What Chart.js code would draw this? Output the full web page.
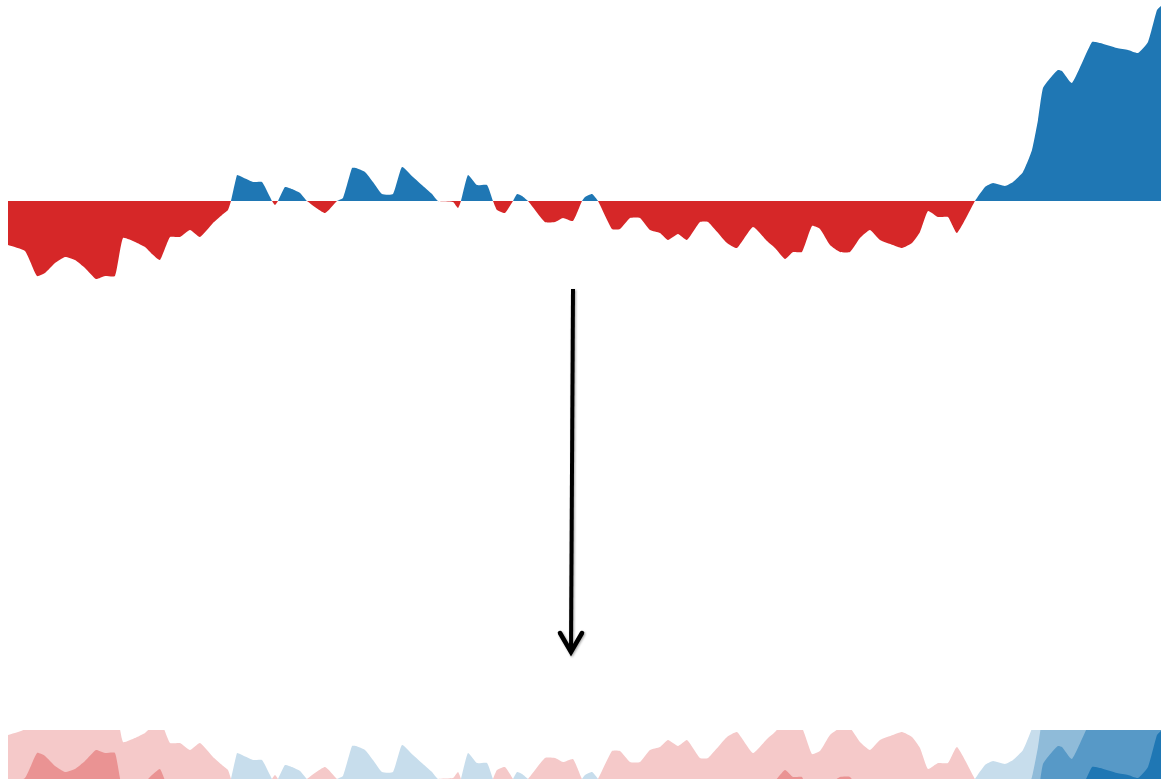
<!DOCTYPE html>
<html>
<head>
<meta charset="utf-8">
<script src="https://cdn.jsdelivr.net/npm/chart.js@4/dist/chart.umd.min.js"></script>
<style>
  html, body { margin: 0; padding: 0; background: #ffffff; }
  body { width: 1161px; height: 779px; position: relative; overflow: hidden; }
  #area { position: absolute; left: 8px; top: 0px; }
  #horizon { position: absolute; left: 8px; top: 730px; }
  #arrow { position: absolute; left: 0; top: 0; }
</style>
</head>
<body>
<canvas id="area" width="1153" height="290"></canvas>
<svg id="arrow" width="1161" height="779" style="filter: drop-shadow(1px 1px 1.2px rgba(0,0,0,0.35));">
  <line x1="573" y1="289" x2="571" y2="650" stroke="#000" stroke-width="4"/>
  <polyline points="560,633 571,652 582,633" fill="none" stroke="#000" stroke-width="4.5" stroke-linejoin="miter" stroke-linecap="round"/>
</svg>
<canvas id="horizon" width="1153" height="49"></canvas>
<script>
// Time series: sample positions and signed values
const days = [
  0, 17, 29, 37, 47, 57, 67, 77, 88, 97, 107, 115, 127, 137, 144, 152, 162, 172, 182, 192,
  205, 214, 220, 223, 229, 232, 245, 254, 262, 264, 267, 270, 277, 284, 292, 299, 317, 329, 335, 344,
  348, 357, 365, 374, 385, 394, 405, 415, 424, 430, 445, 450, 453, 460, 469, 479, 485, 489, 497, 505,
  509, 514, 520, 537, 547, 555, 565, 574, 577, 584, 590, 604, 612, 622, 632, 642, 652, 660, 670, 679,
  692, 700, 719, 729, 745, 759, 767, 777, 785, 794, 804, 812, 822, 832, 842, 852, 862, 872, 885, 894,
  904, 912, 920, 930, 940, 949, 967, 977, 985, 997, 1005, 1015, 1024, 1030, 1035, 1044, 1050, 1054, 1064, 1084,
  1092, 1109, 1120, 1130, 1140, 1149, 1153
];
const values = [
  -44, -50, -75, -72, -62, -56, -59, -67, -78, -75, -75, -37, -41, -46, -53, -59, -36, -36, -29, -36,
  -22, -14, -9, 0, 26, 25, 19, 19, 4, 0, -4, 0, 14, 12, 8, 0, -12, 0, 3, 33,
  33, 29, 19, 7, 7, 34, 24, 15, 7, 0, -1, -7, 0, 26, 16, 16, 0, -9, -12, 0,
  7, 5, 0, -21, -21, -17, -20, 0, 4, 7, 0, -28, -28, -17, -17, -29, -32, -39, -33, -39,
  -21, -21, -42, -47, -26, -40, -47, -58, -51, -51, -25, -28, -44, -51, -51, -37, -29, -39, -44, -47,
  -42, -31, -10, -16, -16, -32, 0, 14, 18, 15, 19, 29, 51, 81, 113, 125, 131, 130, 118, 159,
  158, 153, 151, 148, 159, 191, 195
];
const bandSize = 49;

const blue = '#1f77b4';
const red = '#d62728';
const blueBands = ['#c7ddec', '#8fbbd9', '#5799c7', '#1f77b4'];
const redBands = ['#f5c9c9', '#ea9393', '#e05e5e', '#d62728'];

const points = vals => days.map((d, i) => ({ x: d, y: vals[i] }));

const hiddenAxes = (ymin, ymax) => ({
  x: { type: 'linear', display: false, min: 0, max: days[days.length - 1] },
  y: { type: 'linear', display: false, min: ymin, max: ymax }
});

const baseOptions = (ymin, ymax) => ({
  responsive: false,
  animation: false,
  devicePixelRatio: 1,
  layout: { padding: 0 },
  plugins: { legend: { display: false }, tooltip: { enabled: false } },
  elements: { point: { radius: 0 }, line: { borderWidth: 0, tension: 0.15 } },
  scales: hiddenAxes(ymin, ymax)
});

// Signed area chart: blue above zero, red below
new Chart(document.getElementById('area'), {
  type: 'line',
  data: {
    datasets: [{
      data: points(values),
      borderWidth: 0,
      borderColor: 'rgba(0,0,0,0)',
      fill: { target: 'origin', above: blue, below: red }
    }]
  },
  options: baseOptions(-89, 201)
});

// Horizon chart: each band is the series shifted down by one band height and
// clipped to the band; negative values are mirrored upward in red.
const horizonSets = [];
for (let b = 0; b < 4; b++) {
  horizonSets.push({
    data: points(values.map(v => v - b * bandSize)),
    borderWidth: 0,
    borderColor: 'rgba(0,0,0,0)',
    fill: { target: 'origin', above: blueBands[b], below: 'rgba(0,0,0,0)' },
    order: 10 - b
  });
  horizonSets.push({
    data: points(values.map(v => -v - b * bandSize)),
    borderWidth: 0,
    borderColor: 'rgba(0,0,0,0)',
    fill: { target: 'origin', above: redBands[b], below: 'rgba(0,0,0,0)' },
    order: 10 - b
  });
}

new Chart(document.getElementById('horizon'), {
  type: 'line',
  data: { datasets: horizonSets },
  options: baseOptions(0, bandSize)
});
</script>
</body>
</html>
